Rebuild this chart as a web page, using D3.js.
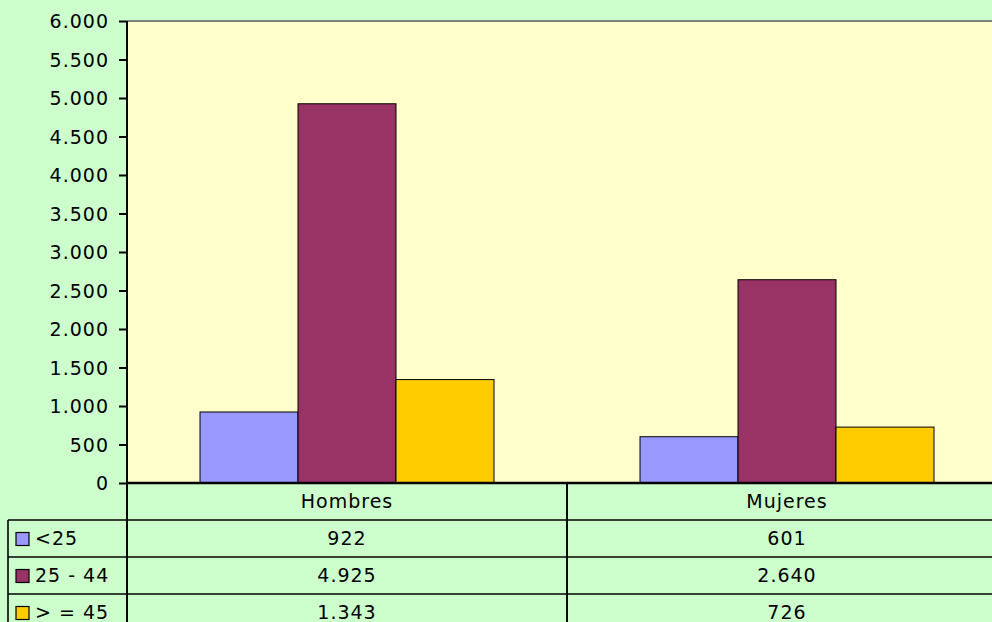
<!DOCTYPE html>
<meta charset="utf-8">
<style>
    body { margin: 0; background: #ccffcc; }
    text {
        font-family: Verdana, "DejaVu Sans", sans-serif;
        fill: #000;
        font-size: 19px;
        letter-spacing: 1px;
    }
    .yAxis path { display: none; }
    .yAxis .tick line { stroke: #000; stroke-width: 2px; }
    .bar { stroke: #000; stroke-width: 1px; }
    .grid { stroke: #000; stroke-width: 1.6px; fill: none; }
</style>
<body>
    <svg width="992" height="622"></svg>
</body>
<script src="https://d3js.org/d3.v7.min.js"></script>
<script>

    // data
    var categories = ["Hombres", "Mujeres"];
    var seriesNames = ["<25", "25 - 44", "> = 45"];
    var seriesColors = ["#9999ff", "#993366", "#ffcc00"];
    var valuesUnder25 = [922, 601];
    var values25to44 = [4925, 2640];
    var valuesOver45 = [1343, 726];
    var seriesValues = [valuesUnder25, values25to44, valuesOver45];

    var svg = d3.select("svg"),
        width = +svg.attr("width"),
        height = +svg.attr("height");

    var plotLeft = 127, plotRight = 1007, plotTop = 21, zeroY = 483;
    var rowH = 37, tableLeft = 8;

    // spanish number format: 4.925
    var fmt = d3.formatLocale({decimal: ",", thousands: ".", grouping: [3], currency: ["", "€"]}).format(",d");

    var x = d3.scaleBand().domain(categories).range([plotLeft, plotRight]);
    var xs = d3.scaleBand().domain(seriesNames).range([0, x.bandwidth()]).paddingOuter(0.745);
    var y = d3.scaleLinear().domain([0, 6000]).range([zeroY, plotTop]);

    // background of plot area
    svg.append("rect")
        .attr("x", plotLeft).attr("y", plotTop)
        .attr("width", plotRight - plotLeft).attr("height", zeroY - plotTop)
        .style("fill", "#ffffcc");
    svg.append("line")
        .attr("x1", plotLeft).attr("x2", plotRight)
        .attr("y1", plotTop).attr("y2", plotTop)
        .style("stroke", "#808080").style("stroke-width", 2);

    // bars
    var groups = svg.selectAll(".cat")
        .data(categories)
        .enter().append("g")
        .attr("class", "cat")
        .attr("transform", function (d) { return "translate(" + x(d) + ",0)"; });

    groups.selectAll("rect")
        .data(function (d, i) {
            return seriesNames.map(function (s, j) { return {s: s, v: seriesValues[j][i], c: seriesColors[j]}; });
        })
        .enter().append("rect")
        .attr("class", "bar")
        .attr("x", function (d) { return xs(d.s); })
        .attr("width", xs.bandwidth())
        .attr("y", function (d) { return y(d.v); })
        .attr("height", function (d) { return zeroY - y(d.v); })
        .style("fill", function (d) { return d.c; });

    // y axis
    svg.append("g")
        .attr("class", "yAxis")
        .attr("transform", "translate(" + plotLeft + ",0)")
        .call(d3.axisLeft(y).ticks(12).tickSize(8).tickPadding(10).tickFormat(fmt))
        .selectAll("text")
        .style("font-size", "19px")
        .style("font-family", null)
        .attr("dy", "0.36em");

    // data table
    var tableBottom = zeroY + rowH * 4;
    var grid = svg.append("g").attr("class", "grid");
    grid.append("line").attr("x1", plotLeft).attr("x2", plotLeft).attr("y1", plotTop).attr("y2", tableBottom).style("stroke-width", 2);
    grid.append("line").attr("x1", plotLeft).attr("x2", plotRight).attr("y1", zeroY).attr("y2", zeroY).style("stroke-width", 2.5);
    grid.append("line").attr("x1", plotLeft + x.bandwidth()).attr("x2", plotLeft + x.bandwidth())
        .attr("y1", zeroY).attr("y2", tableBottom).style("stroke-width", 2);
    grid.append("line").attr("x1", tableLeft).attr("x2", tableLeft).attr("y1", zeroY + rowH).attr("y2", tableBottom);
    d3.range(1, 4).forEach(function (r) {
        grid.append("line")
            .attr("x1", tableLeft).attr("x2", plotRight)
            .attr("y1", zeroY + rowH * r).attr("y2", zeroY + rowH * r);
    });

    // header row
    svg.selectAll(".catLabel")
        .data(categories)
        .enter().append("text")
        .attr("class", "catLabel")
        .attr("x", function (d) { return x(d) + x.bandwidth() / 2; })
        .attr("y", zeroY + rowH / 2)
        .attr("dy", "0.36em")
        .style("text-anchor", "middle")
        .text(function (d) { return d; });

    // value rows with legend keys
    seriesNames.forEach(function (s, j) {
        var rowY = zeroY + rowH * (j + 1);
        svg.append("rect")
            .attr("x", 16).attr("y", rowY + rowH / 2 - 6)
            .attr("width", 13).attr("height", 13)
            .style("fill", seriesColors[j])
            .style("stroke", "#000").style("stroke-width", 1.2);
        svg.append("text")
            .attr("x", 35).attr("y", rowY + rowH / 2)
            .attr("dy", "0.36em")
            .text(s);
        categories.forEach(function (c, i) {
            svg.append("text")
                .attr("x", x(c) + x.bandwidth() / 2)
                .attr("y", rowY + rowH / 2)
                .attr("dy", "0.36em")
                .style("text-anchor", "middle")
                .text(fmt(seriesValues[j][i]));
        });
    });
</script>
